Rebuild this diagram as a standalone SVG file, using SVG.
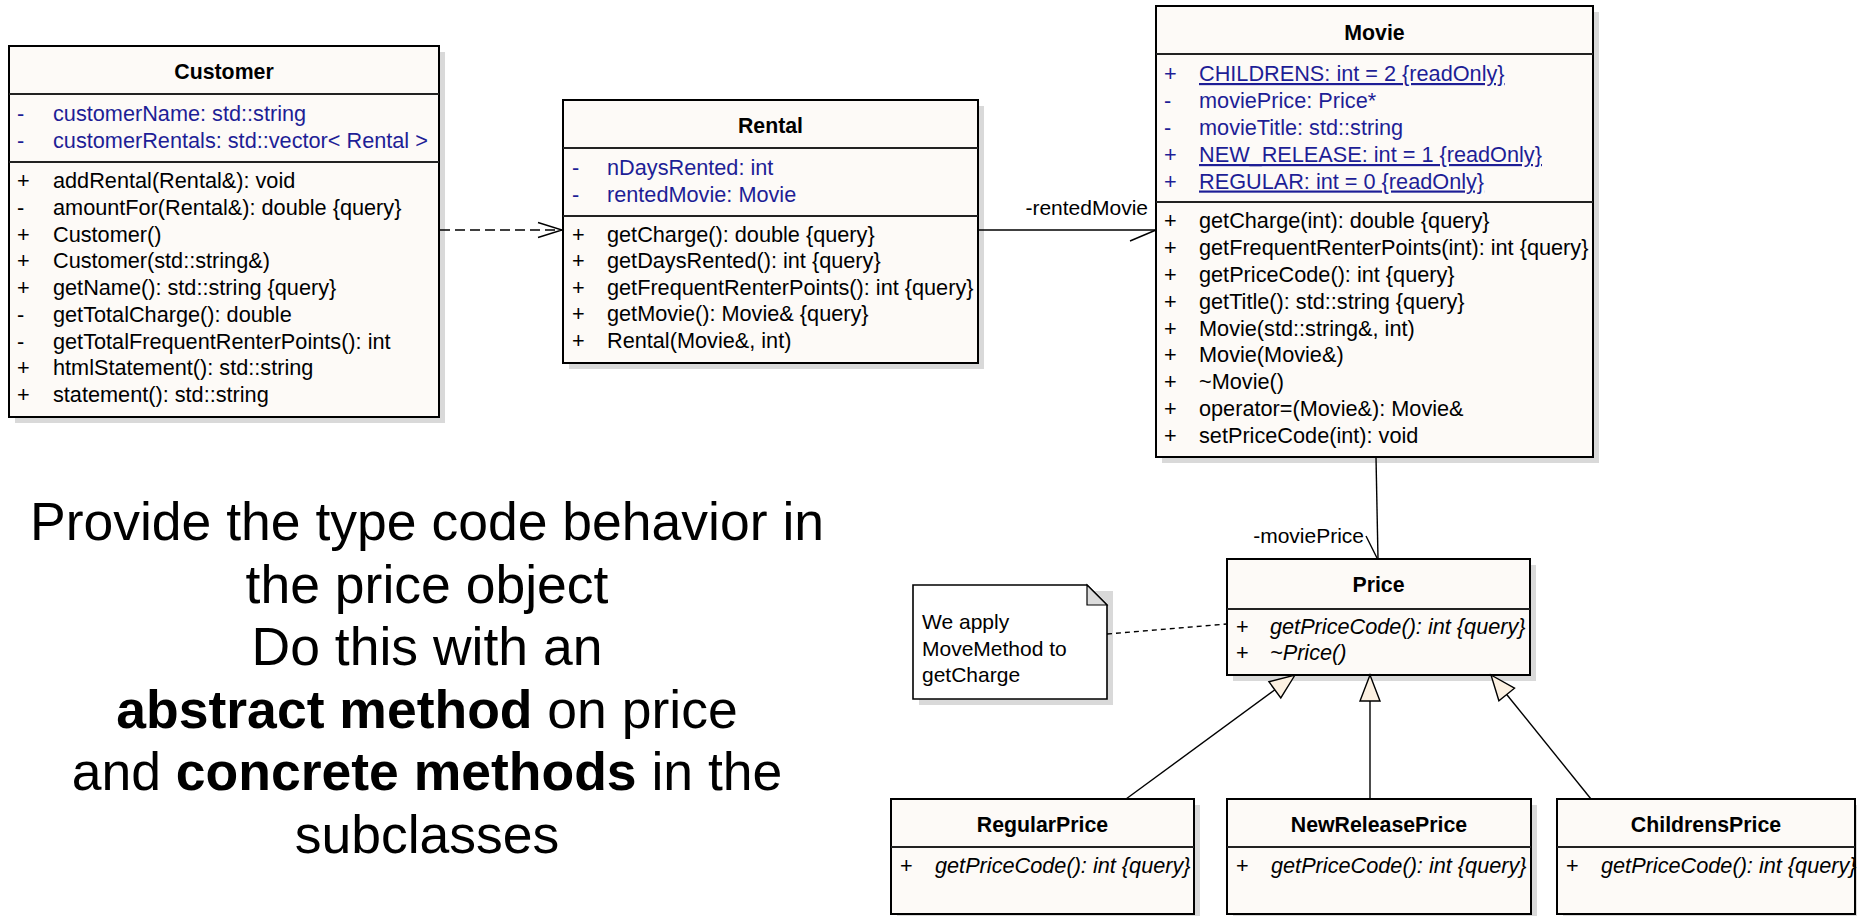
<svg xmlns="http://www.w3.org/2000/svg" width="1857" height="916" viewBox="0 0 1857 916">
<defs>
<style>
text{font-family:"Liberation Sans",Arial,sans-serif;font-size:21.7px;fill:#000}
.lbl{font-size:21px}
.box{fill:#fdfaf7;stroke:#000;stroke-width:2}
.sh{fill:#d9d9d9}
.div{stroke:#222;stroke-width:2}
.title{font-weight:bold;text-anchor:middle;font-size:21.3px}
.attr{fill:#1e1e96}
.st{text-decoration:underline}
.it{font-style:italic}
.conn{stroke:#000;stroke-width:1.4;fill:none}
.gen{fill:#fcf1e2;stroke:#000;stroke-width:1.4}
.big{font-size:53.5px;text-anchor:middle}
</style>
</defs>
<rect width="1857" height="916" fill="#fff"/>

<g id="customer">
<rect class="sh" x="15" y="52" width="430" height="371"/>
<rect class="box" x="9" y="46" width="430" height="371"/>
<line class="div" x1="9" y1="94" x2="439" y2="94"/>
<line class="div" x1="9" y1="162" x2="439" y2="162"/>
<text class="title" x="224" y="79">Customer</text>
<text class="attr" x="17" y="121">-</text><text class="attr" x="53" y="121">customerName: std::string</text>
<text class="attr" x="17" y="148">-</text><text class="attr" x="53" y="148">customerRentals: std::vector&lt; Rental &gt;</text>
<text x="17" y="188">+</text><text x="53" y="188">addRental(Rental&amp;): void</text>
<text x="17" y="214.8">-</text><text x="53" y="214.8">amountFor(Rental&amp;): double {query}</text>
<text x="17" y="241.5">+</text><text x="53" y="241.5">Customer()</text>
<text x="17" y="268.3">+</text><text x="53" y="268.3">Customer(std::string&amp;)</text>
<text x="17" y="295">+</text><text x="53" y="295">getName(): std::string {query}</text>
<text x="17" y="321.8">-</text><text x="53" y="321.8">getTotalCharge(): double</text>
<text x="17" y="348.5">-</text><text x="53" y="348.5">getTotalFrequentRenterPoints(): int</text>
<text x="17" y="375.3">+</text><text x="53" y="375.3">htmlStatement(): std::string</text>
<text x="17" y="402">+</text><text x="53" y="402">statement(): std::string</text>
</g>

<g id="rental">
<rect class="sh" x="569" y="106" width="415" height="263"/>
<rect class="box" x="563" y="100" width="415" height="263"/>
<line class="div" x1="563" y1="148" x2="978" y2="148"/>
<line class="div" x1="563" y1="216" x2="978" y2="216"/>
<text class="title" x="770.5" y="133">Rental</text>
<text class="attr" x="572" y="175">-</text><text class="attr" x="607" y="175">nDaysRented: int</text>
<text class="attr" x="572" y="202">-</text><text class="attr" x="607" y="202">rentedMovie: Movie</text>
<text x="572" y="242">+</text><text x="607" y="242">getCharge(): double {query}</text>
<text x="572" y="268.4">+</text><text x="607" y="268.4">getDaysRented(): int {query}</text>
<text x="572" y="294.8">+</text><text x="607" y="294.8">getFrequentRenterPoints(): int {query}</text>
<text x="572" y="321.2">+</text><text x="607" y="321.2">getMovie(): Movie&amp; {query}</text>
<text x="572" y="347.6">+</text><text x="607" y="347.6">Rental(Movie&amp;, int)</text>
</g>

<g id="movie">
<rect class="sh" x="1162" y="12" width="437" height="451"/>
<rect class="box" x="1156" y="6" width="437" height="451"/>
<line class="div" x1="1156" y1="54" x2="1593" y2="54"/>
<line class="div" x1="1156" y1="202" x2="1593" y2="202"/>
<text class="title" x="1374.5" y="40">Movie</text>
<text class="attr" x="1164" y="81">+</text><text class="attr st" x="1199" y="81">CHILDRENS: int = 2 {readOnly}</text>
<text class="attr" x="1164" y="108">-</text><text class="attr" x="1199" y="108">moviePrice: Price*</text>
<text class="attr" x="1164" y="135">-</text><text class="attr" x="1199" y="135">movieTitle: std::string</text>
<text class="attr" x="1164" y="162">+</text><text class="attr st" x="1199" y="162">NEW_RELEASE: int = 1 {readOnly}</text>
<text class="attr" x="1164" y="188.5">+</text><text class="attr st" x="1199" y="188.5">REGULAR: int = 0 {readOnly}</text>
<text x="1164" y="228">+</text><text x="1199" y="228">getCharge(int): double {query}</text>
<text x="1164" y="254.9">+</text><text x="1199" y="254.9">getFrequentRenterPoints(int): int {query}</text>
<text x="1164" y="281.8">+</text><text x="1199" y="281.8">getPriceCode(): int {query}</text>
<text x="1164" y="308.6">+</text><text x="1199" y="308.6">getTitle(): std::string {query}</text>
<text x="1164" y="335.5">+</text><text x="1199" y="335.5">Movie(std::string&amp;, int)</text>
<text x="1164" y="362.4">+</text><text x="1199" y="362.4">Movie(Movie&amp;)</text>
<text x="1164" y="389.3">+</text><text x="1199" y="389.3">~Movie()</text>
<text x="1164" y="416.1">+</text><text x="1199" y="416.1">operator=(Movie&amp;): Movie&amp;</text>
<text x="1164" y="443">+</text><text x="1199" y="443">setPriceCode(int): void</text>
</g>

<g id="price">
<rect class="sh" x="1233" y="565" width="303" height="116"/>
<rect class="box" x="1227" y="559" width="303" height="116"/>
<line class="div" x1="1227" y1="609" x2="1530" y2="609"/>
<text class="title" x="1378.5" y="592">Price</text>
<text x="1236" y="634">+</text><text class="it" x="1270" y="634">getPriceCode(): int {query}</text>
<text x="1236" y="660">+</text><text class="it" x="1270" y="660">~Price()</text>
</g>

<g id="note">
<path class="sh" d="M919 591 H1113 V705 H919 Z"/>
<path d="M913 585 H1087 L1107 605 V699 H913 Z" fill="#fff" stroke="#000" stroke-width="1.6"/>
<path d="M1087 585 L1107 605 H1087 Z" fill="#dcdcdc" stroke="#000" stroke-width="1.2"/>
<text class="lbl" x="922" y="629">We apply</text>
<text class="lbl" x="922" y="656">MoveMethod to</text>
<text class="lbl" x="922" y="682">getCharge</text>
</g>

<g id="regularprice">
<rect class="sh" x="897" y="805" width="303" height="115"/>
<rect class="box" x="891" y="799" width="303" height="115"/>
<line class="div" x1="891" y1="847" x2="1194" y2="847"/>
<text class="title" x="1042.5" y="832">RegularPrice</text>
<text x="900" y="873">+</text><text class="it" x="935" y="873">getPriceCode(): int {query}</text>
</g>

<g id="newreleaseprice">
<rect class="sh" x="1233" y="805" width="304" height="115"/>
<rect class="box" x="1227" y="799" width="304" height="115"/>
<line class="div" x1="1227" y1="847" x2="1531" y2="847"/>
<text class="title" x="1379" y="832">NewReleasePrice</text>
<text x="1236" y="873">+</text><text class="it" x="1271" y="873">getPriceCode(): int {query}</text>
</g>

<g id="childrensprice">
<rect class="sh" x="1563" y="805" width="298" height="115"/>
<rect class="box" x="1557" y="799" width="298" height="115"/>
<line class="div" x1="1557" y1="847" x2="1855" y2="847"/>
<text class="title" x="1706" y="832">ChildrensPrice</text>
<text x="1566" y="873">+</text><text class="it" x="1601" y="873">getPriceCode(): int {query}</text>
</g>

<g id="connectors">
<line class="conn" x1="440" y1="230" x2="562" y2="230" stroke-dasharray="10,5"/>
<polyline class="conn" points="538,222.5 562,230 538,237.5"/>
<line class="conn" x1="978" y1="230" x2="1156" y2="230"/>
<line class="conn" x1="1130" y1="241" x2="1156" y2="230"/>
<text class="lbl" x="1148" y="215" text-anchor="end">-rentedMovie</text>
<line class="conn" x1="1376" y1="457" x2="1378" y2="559"/>
<line class="conn" x1="1366" y1="536" x2="1377" y2="558"/>
<text class="lbl" x="1364" y="543" text-anchor="end">-moviePrice</text>
<line class="conn" x1="1107" y1="634" x2="1227" y2="624" stroke-dasharray="5,4"/>
<line class="conn" x1="1126" y1="799" x2="1274.9" y2="689.8"/>
<polygon class="gen" points="1295,675 1280.8,697.9 1268.9,681.7"/>
<line class="conn" x1="1370" y1="799" x2="1370" y2="701"/>
<polygon class="gen" points="1370,675 1380,701 1360,701"/>
<line class="conn" x1="1591" y1="799" x2="1506.7" y2="694.5"/>
<polygon class="gen" points="1491,675 1514.5,688.2 1498.9,700.7"/>
</g>

<g id="caption">
<text class="big" x="427" y="540">Provide the type code behavior in</text>
<text class="big" x="427" y="602.5">the price object</text>
<text class="big" x="427" y="665">Do this with an</text>
<text class="big" x="427" y="727.5"><tspan font-weight="bold">abstract method</tspan> on price</text>
<text class="big" x="427" y="790">and <tspan font-weight="bold">concrete methods</tspan> in the</text>
<text class="big" x="427" y="852.5">subclasses</text>
</g>
</svg>
